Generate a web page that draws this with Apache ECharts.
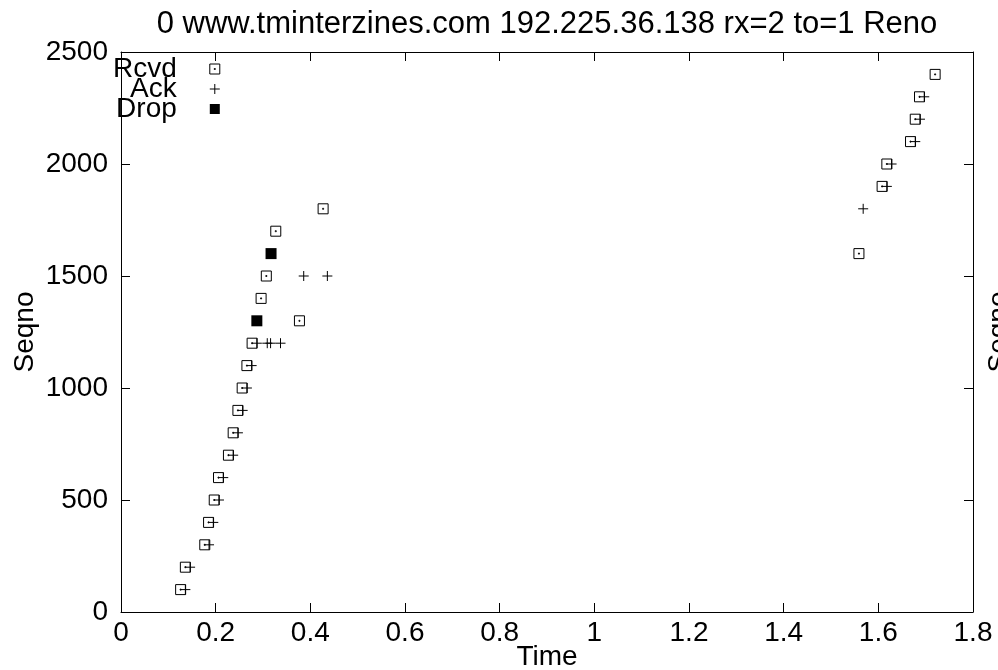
<!DOCTYPE html>
<html>
<head>
<meta charset="utf-8">
<script src="https://cdn.jsdelivr.net/npm/echarts@6/dist/echarts.min.js"></script>
<style>
  html, body { margin: 0; padding: 0; background: #fff; }
  #chart { width: 998px; height: 670px; }
</style>
</head>
<body>
<div id="chart"></div>
<script>
const titleText = '0 www.tminterzines.com 192.225.36.138 rx=2 to=1 Reno';
const xTicks = [0, 0.2, 0.4, 0.6, 0.8, 1, 1.2, 1.4, 1.6, 1.8];
const yTicks = [0, 500, 1000, 1500, 2000, 2500];

const rcvd = [
  [0.126, 100], [0.136, 200], [0.177, 300], [0.185, 400], [0.197, 500],
  [0.206, 600], [0.227, 700], [0.237, 800], [0.247, 900], [0.256, 1000],
  [0.266, 1100], [0.277, 1200], [0.296, 1400], [0.307, 1500], [0.327, 1700],
  [0.377, 1300], [0.427, 1800], [1.559, 1600], [1.608, 1900], [1.618, 2000],
  [1.668, 2100], [1.678, 2200], [1.687, 2300], [1.720, 2400]
];
const ack = [
  [0.136, 100], [0.146, 200], [0.186, 300], [0.195, 400], [0.207, 500],
  [0.216, 600], [0.237, 700], [0.247, 800], [0.257, 900], [0.266, 1000],
  [0.276, 1100], [0.287, 1200], [0.309, 1200], [0.316, 1200], [0.337, 1200],
  [0.386, 1500], [0.436, 1500], [1.568, 1800], [1.618, 1900], [1.628, 2000],
  [1.678, 2100], [1.688, 2200], [1.697, 2300]
];
const drop = [
  [0.287, 1300], [0.317, 1600]
];

const FONT = 'Liberation Sans, Arial, sans-serif';
const FS = 28;
const chart = echarts.init(document.getElementById('chart'), null, { renderer: 'canvas' });

const axisCommon = {
  nameMoveOverlap: false,
  axisLine: { show: true, onZero: false, lineStyle: { color: '#000', width: 1 } },
  axisTick: { show: true, inside: true, length: 9, lineStyle: { color: '#000', width: 1 } },
  splitLine: { show: false }
};
const fmt = v => String(Math.round(v * 1000) / 1000);

chart.setOption({
  backgroundColor: '#fff',
  animation: false,
  title: {
    text: titleText,
    left: 542,
    textAlign: 'center',
    top: 4,
    textStyle: { fontFamily: FONT, fontSize: 31, fontWeight: 'normal', color: '#000' }
  },
  legend: {
    orient: 'vertical',
    left: 108,
    top: 50,
    align: 'right',
    itemGap: -8,
    itemWidth: 10,
    itemHeight: 10,
    selectedMode: false,
    itemStyle: { borderWidth: 1 },
    textStyle: {
      fontFamily: FONT, fontSize: FS, color: '#000',
      width: 70, align: 'right', padding: [0, 28, 0, 0]
    },
    data: ['Rcvd', 'Ack', 'Drop']
  },
  grid: { left: 121, right: 25, top: 52, bottom: 58, containLabel: false, outerBoundsMode: 'none' },
  xAxis: [
    Object.assign({
      type: 'value', position: 'bottom', min: xTicks[0], max: xTicks[xTicks.length - 1], interval: 0.2,
      name: 'Time', nameLocation: 'middle', nameGap: 31,
      nameTextStyle: { fontFamily: FONT, fontSize: FS, color: '#000' },
      axisLabel: { fontFamily: FONT, fontSize: FS, color: '#000', margin: 7, formatter: fmt }
    }, axisCommon),
    Object.assign({
      type: 'value', position: 'top', min: xTicks[0], max: xTicks[xTicks.length - 1], interval: 0.2,
      axisLabel: { show: false }
    }, axisCommon)
  ],
  yAxis: [
    Object.assign({
      type: 'value', position: 'left', min: yTicks[0], max: yTicks[yTicks.length - 1], interval: 500,
      name: 'Seqno', nameLocation: 'middle', nameGap: 82, nameRotate: 90,
      nameTextStyle: { fontFamily: FONT, fontSize: FS, color: '#000' },
      axisLabel: { fontFamily: FONT, fontSize: FS, color: '#000', margin: 13, formatter: fmt }
    }, axisCommon),
    Object.assign({
      type: 'value', position: 'right', min: yTicks[0], max: yTicks[yTicks.length - 1], interval: 500,
      name: 'Seqno', nameLocation: 'middle', nameGap: 12, nameRotate: 90,
      nameTextStyle: { fontFamily: FONT, fontSize: FS, color: '#000' },
      axisLabel: { show: false }
    }, axisCommon)
  ],
  series: [
    {
      name: 'Rcvd', type: 'scatter', data: rcvd,
      symbol: 'path://M0,0H10V10H0Z M4.5,4.5H5.5V5.5H4.5Z', symbolSize: 10,
      itemStyle: { color: 'rgba(0,0,0,0)', borderColor: '#000', borderWidth: 1, opacity: 1 }
    },
    {
      name: 'Ack', type: 'scatter', data: ack,
      symbol: 'path://M0,5H10M5,0V10', symbolSize: 10,
      itemStyle: { color: 'rgba(0,0,0,0)', borderColor: '#000', borderWidth: 1, opacity: 1 }
    },
    {
      name: 'Drop', type: 'scatter', data: drop,
      symbol: 'rect', symbolSize: 11,
      itemStyle: { color: '#000', borderWidth: 0, opacity: 1 }
    }
  ]
});
</script>
</body>
</html>
